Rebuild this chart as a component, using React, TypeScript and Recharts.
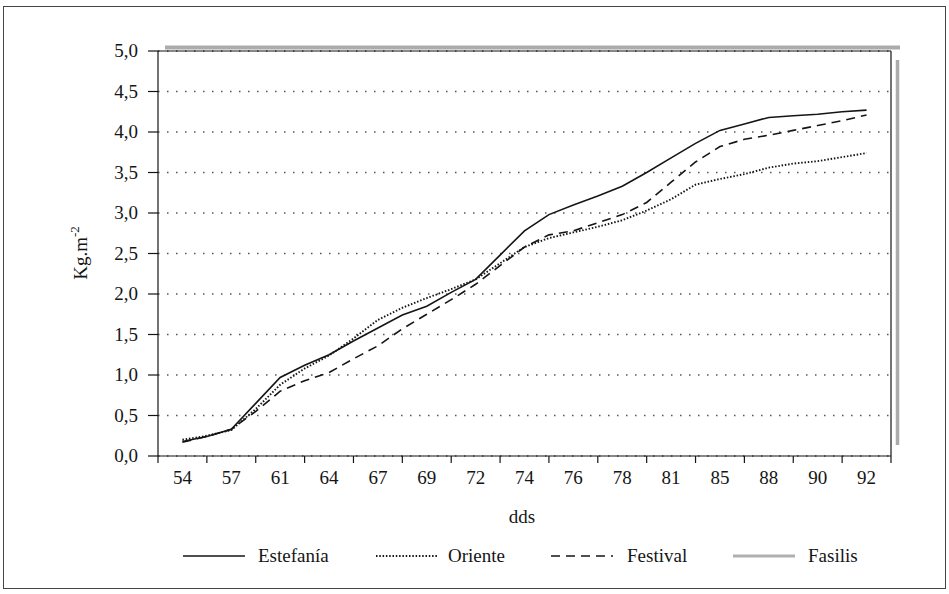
import { CartesianGrid, Customized, Legend, Line, LineChart, XAxis, YAxis } from "recharts";

// labelled days (every second point carries a label)
const ddsLabels = ["54", "57", "61", "64", "67", "69", "72", "74", "76", "78", "81", "85", "88", "90", "92"];

// Kg.m-2, 29 readings (labelled day + in-between reading)
const estefania = [0.18, 0.24, 0.33, 0.65, 0.97, 1.12, 1.25, 1.42, 1.58, 1.74, 1.85, 2.02, 2.18, 2.48, 2.78, 2.98, 3.1, 3.21, 3.33, 3.5, 3.68, 3.86, 4.02, 4.1, 4.18, 4.2, 4.22, 4.25, 4.27];
const oriente = [0.2, 0.25, 0.32, 0.58, 0.88, 1.08, 1.24, 1.45, 1.68, 1.83, 1.95, 2.06, 2.18, 2.38, 2.58, 2.69, 2.76, 2.83, 2.91, 3.03, 3.17, 3.35, 3.42, 3.48, 3.56, 3.61, 3.64, 3.69, 3.74];
const festival = [0.17, 0.24, 0.33, 0.55, 0.8, 0.93, 1.03, 1.2, 1.36, 1.57, 1.75, 1.93, 2.12, 2.35, 2.58, 2.73, 2.78, 2.88, 2.98, 3.13, 3.38, 3.63, 3.82, 3.91, 3.96, 4.02, 4.08, 4.14, 4.21];

const yTicks = [0, 0.5, 1, 1.5, 2, 2.5, 3, 3.5, 4, 4.5, 5];
const xTicks = Array.from({ length: 31 }, (_, i) => i - 1);

const data = estefania.map((v, i) => ({ i, estefania: v, oriente: oriente[i], festival: festival[i] }));

const FONT = "Liberation Serif";
const INK = "#151515";
const txt = { fontFamily: FONT, fontSize: 19, fill: INK };

function XTick({ x, y, payload }: any) {
  const k = payload.value;
  if (Math.abs(k % 2) === 1) {
    return <line x1={x} y1={y} x2={x} y2={y + 7} stroke={INK} strokeWidth={1.2} />;
  }
  return (
    <text x={x} y={y + 28} textAnchor="middle" style={txt}>
      {ddsLabels[k / 2]}
    </text>
  );
}

function YTick({ x, y, payload }: any) {
  return (
    <text x={x} y={y + 6} textAnchor="end" style={txt}>
      {payload.value.toFixed(1).replace(".", ",")}
    </text>
  );
}

function Decor() {
  return (
    <g>
      {/* plot frame and its grey shadow */}
      <line x1={158} y1={51} x2={891} y2={51} stroke={INK} strokeWidth={1.2} />
      <line x1={891} y1={51} x2={891} y2={456} stroke={INK} strokeWidth={1.2} />
      <line x1={165} y1={47.5} x2={900} y2={47.5} stroke="#ababab" strokeWidth={4} />
      <line x1={897.5} y1={60} x2={897.5} y2={445} stroke="#ababab" strokeWidth={3.5} />
      <text transform="translate(87,253) rotate(-90)" textAnchor="middle" style={txt}>
        Kg.m
        <tspan dy={-8} style={{ fontSize: 13 }}>-2</tspan>
      </text>
      <text x={522} y={523} textAnchor="middle" style={txt}>
        dds
      </text>
    </g>
  );
}

function LegendBox() {
  const items = [
    { x: 183, label: "Estefanía", dash: undefined, color: INK, w: 1.6, tx: 258 },
    { x: 376, label: "Oriente", dash: "1.5 1.8", color: INK, w: 1.9, tx: 448 },
    { x: 551, label: "Festival", dash: "9 6", color: INK, w: 1.6, tx: 627 },
    { x: 733, label: "Fasilis", dash: undefined, color: "#b0b0b0", w: 3, tx: 808 },
  ];
  return (
    <svg width={949} height={30}>
      {items.map((it) => (
        <g key={it.label}>
          <line x1={it.x} y1={15} x2={it.x + 62} y2={15} stroke={it.color} strokeWidth={it.w} strokeDasharray={it.dash} />
          <text x={it.tx} y={21} style={txt}>
            {it.label}
          </text>
        </g>
      ))}
    </svg>
  );
}

export default function App() {
  return (
    <div style={{ position: "absolute", left: 0, top: 0, width: 949, height: 594, background: "#fff", fontFamily: FONT }}>
      <div style={{ position: "absolute", left: 3, top: 6, width: 941, height: 581, border: "1px solid #444" }} />
      <LineChart width={949} height={594} data={data} margin={{ top: 51, right: 58, left: 98, bottom: 23 }}>
        <CartesianGrid vertical={false} stroke="#555" strokeDasharray="1.5 7.5" strokeWidth={1.4} />
        <XAxis
          dataKey="i"
          type="number"
          domain={[-1, 29]}
          ticks={xTicks}
          interval={0}
          tick={<XTick />}
          tickLine={false}
          tickSize={0}
          tickMargin={0}
          height={85}
          axisLine={{ stroke: INK, strokeWidth: 1.2 }}
        />
        <YAxis
          domain={[0, 5]}
          ticks={yTicks}
          width={60}
          tickSize={10}
          tickMargin={10}
          tick={<YTick />}
          tickLine={{ stroke: INK, strokeWidth: 1.2 }}
          axisLine={{ stroke: INK, strokeWidth: 1.2 }}
        />
        <Customized component={Decor} />
        <Line type="linear" dataKey="oriente" stroke={INK} strokeWidth={1.9} strokeDasharray="1.5 1.8" dot={false} isAnimationActive={false} />
        <Line type="linear" dataKey="festival" stroke={INK} strokeWidth={1.6} strokeDasharray="9 6" dot={false} isAnimationActive={false} />
        <Line type="linear" dataKey="estefania" stroke={INK} strokeWidth={1.6} dot={false} isAnimationActive={false} />
        <Legend verticalAlign="bottom" height={30} content={<LegendBox />} wrapperStyle={{ left: 0, width: 949, height: 30 }} />
      </LineChart>
    </div>
  );
}
